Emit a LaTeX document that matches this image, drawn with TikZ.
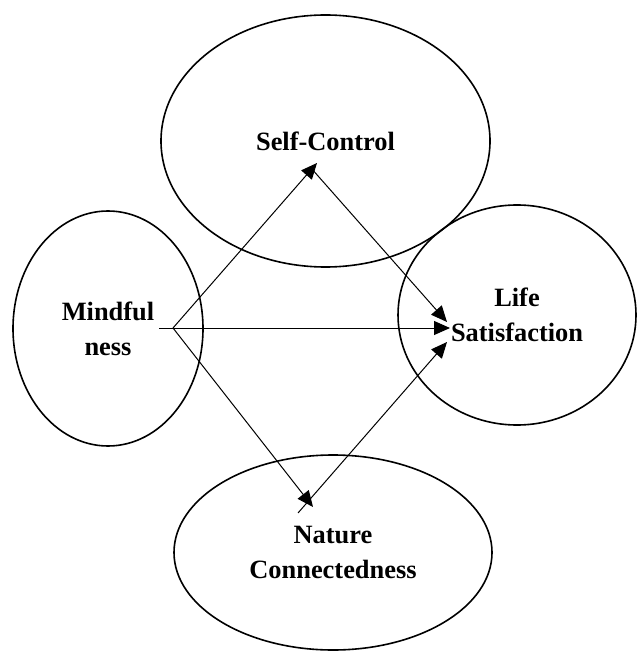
\documentclass[tikz,border=0pt]{standalone}
\usepackage{fontspec}
\setmainfont{Liberation Serif}
\usetikzlibrary{shapes.geometric,arrows.meta}

\begin{document}
\begin{tikzpicture}[x=0.5pt,y=-0.5pt,
	var/.style={draw, ellipse, line width=0.8pt, inner sep=0pt, align=center, font=\fontsize{13.2}{17.5}\selectfont\bfseries},
	path/.style={-{Triangle[length=8pt,width=7pt]}, line width=0.5pt}]
			\useasboundingbox (0,0) rectangle (636,651);
			\node[var, minimum width=164.5pt, minimum height=126pt] (selfcontrol) at (325.5,141) {Self-Control};
			\node[var, minimum width=95pt, minimum height=117.5pt] (mindfulness) at (108,328.5) {Mindful\\ness};
			\node[var, minimum width=119pt, minimum height=110pt] (lifesat) at (517,315) {Life\\Satisfaction};
			\node[var, minimum width=159pt, minimum height=97.5pt] (nature) at (333,552.5) {Nature\\Connectedness};
			% ends of the paths
			\coordinate (tail) at (159,328);
			\coordinate (src) at (173,328);
			\coordinate (sctip) at (317,163);
			\coordinate (scout) at (311,168);
			\coordinate (nctip) at (313,507);
			\coordinate (ncout) at (298,513);
			\coordinate (lstop) at (447,322);
			\coordinate (lsmid) at (450,328);
			\coordinate (lsbot) at (447,342);
			\draw [path] (src) -- (sctip);
			\draw [path] (src) -- (nctip);
			\draw [path] (tail) -- (lsmid);
			\draw [path] (scout) -- (lstop);
			\draw [path] (ncout) -- (lsbot);
\end{tikzpicture}
\end{document}
